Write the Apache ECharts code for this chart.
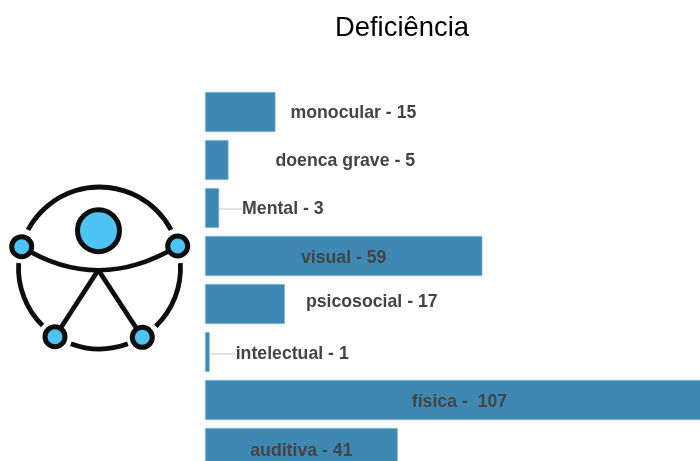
<!DOCTYPE html>
<html><head><meta charset="utf-8">
<style>html,body{margin:0;padding:0;background:#fff;overflow:hidden}#c{width:700px;height:461px}</style>
<script src="https://cdn.jsdelivr.net/npm/echarts@6/dist/echarts.min.js"></script></head>
<body><div id="c"></div>
<script>
const categories = ['monocular','doenca grave','Mental','visual','psicosocial','intelectual','física','auditiva'];
const values = [15,5,3,59,17,1,107,41];
const separators = [' - ',' - ',' - ',' - ',' - ',' - ',' -  ',' - '];

const labelPlacement = [
  {position:'right',distance:15,dx:0,dy:1},
  {position:'right',distance:47,dx:0,dy:1},
  {position:'right',distance:0,dx:17,dy:1,line:true},
  {position:'inside',dx:0,dy:2},
  {position:'right',distance:21,dx:0,dy:-2},
  {position:'right',distance:0,dx:20,dy:2,line:true},
  {position:'inside',dx:3,dy:2},
  {position:'inside',dx:0,dy:3}
];
const ink='#0d0d0d', sky='#4fc3f1';
const ringStyle={fill:'none',stroke:ink,lineWidth:4.8,lineCap:'butt'};
const deg=d=>d*Math.PI/180;
const arc=(a,b)=>({type:'arc',shape:{cx:99.5,cy:268,r:81,startAngle:deg(a),endAngle:deg(b),clockwise:true},style:ringStyle});
const limb=(x1,y1,x2,y2)=>({type:'line',shape:{x1,y1,x2,y2},style:{stroke:ink,lineWidth:4.8}});
const dot=(cx,cy,r)=>({type:'circle',shape:{cx,cy,r},style:{fill:sky,stroke:ink,lineWidth:5}});
const icon=[
  arc(208,332),arc(-3.5,46),arc(69.5,110.7),arc(134.7,183.5),
  {type:'bezierCurve',shape:{x1:21.7,y1:246.7,cpx1:72,cpy1:278,cpx2:125,cpy2:278,x2:177.7,y2:246},style:{fill:'none',stroke:ink,lineWidth:4.8}},
  limb(98.3,270,55,336.7),limb(98.3,270,142.3,337.3),
  dot(98.5,230.7,21),dot(21.7,246.7,10),dot(177.7,246,10),dot(55,336.7,10),dot(142.3,337.3,10)
];
const chart=echarts.init(document.getElementById('c'),null,{renderer:'canvas'});
chart.setOption({
  animation:false,
  title:{text:'Deficiência',left:335,top:15,padding:0,textStyle:{fontFamily:'Liberation Sans',fontSize:27.4,fontWeight:'normal',color:'#000'}},
  grid:{left:205,top:88,width:503,height:384,outerBoundsMode:'none',containLabel:false},
  xAxis:{type:'value',min:0,max:107,show:false},
  yAxis:{type:'category',inverse:true,data:categories,show:false},
  graphic:icon,
  series:[{
    type:'bar',barWidth:40,clip:false,
    itemStyle:{color:'#3f88b4',borderColor:'#8fbdd8',borderWidth:0.6},
    labelLayout:params=>{const p=labelPlacement[params.dataIndex];return {dx:p.dx,dy:p.dy};},
    data:values.map((v,i)=>{
      const p=labelPlacement[i];
      return {value:v,
        label:{show:true,position:p.position,distance:p.distance,
          padding:p.line?[0,0,0,6]:0,
          formatter:categories[i]+separators[i]+v,
          fontFamily:'Liberation Sans',fontSize:17.7,fontWeight:'bold',color:'#444'},
        labelLine:p.line?{show:true,lineStyle:{color:'#c4c4c4',width:1}}:{show:false}};
    })
  }]
});
</script></body></html>
